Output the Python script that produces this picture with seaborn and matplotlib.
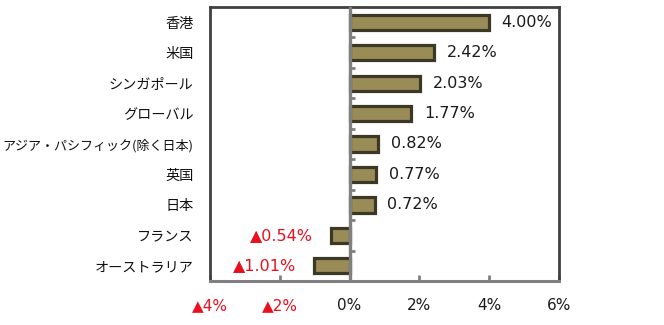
import matplotlib
matplotlib.use("Agg")
import matplotlib.pyplot as plt
import seaborn as sns
import pandas as pd

categories = ["香港", "米国", "シンガポール", "グローバル", "アジア・パシフィック(除く日本)",
              "英国", "日本", "フランス", "オーストラリア"]
values = [4.00, 2.42, 2.03, 1.77, 0.82, 0.77, 0.72, -0.54, -1.01]
xticks = [-4, -2, 0, 2, 4, 6]
xtick_labels = ["▲4%", "▲2%", "0%", "2%", "4%", "6%"]

sns.set_theme(style="white")
plt.rcParams["font.family"] = ["DejaVu Sans", "Noto Sans CJK JP"]

df = pd.DataFrame({"category": categories, "value": values})

fig = plt.figure(figsize=(6.64, 3.25), dpi=100)
ax = fig.add_axes([210 / 664, 1 - 281 / 325, (559 - 210) / 664, (281 - 7) / 325])

sns.barplot(data=df, x="value", y="category", orient="h", color="#9a8c56",
            saturation=1, edgecolor="#3b3826", linewidth=2.3, width=0.5, ax=ax)

RED = "#e8101e"
ax.set_xlim(-4, 6)
ax.set_ylim(8.5, -0.5)
ax.set_xlabel("")
ax.set_ylabel("")

# zero line
ax.axvline(0, color="#808080", linewidth=2.4, zorder=3)
# category boundary ticks on zero line
for i in range(len(categories) - 1):
    ax.hlines(i + 0.5, 0, 0.15, color="#808080", linewidth=2, zorder=3)

# spines
for s in ["left", "top", "right"]:
    ax.spines[s].set_color("#404040")
    ax.spines[s].set_linewidth(2)
ax.spines["bottom"].set_color("#808080")
ax.spines["bottom"].set_linewidth(2.2)

# x ticks
ax.set_xticks(xticks)
ax.set_xticklabels(xtick_labels, fontsize=11)
ax.tick_params(axis="x", direction="in", length=4, width=2, color="#808080", pad=12,
               bottom=True)
for lbl, v in zip(ax.get_xticklabels(), xticks):
    lbl.set_color(RED if v < 0 else "#1a1a1a")

# y tick labels
ax.tick_params(axis="y", length=0, pad=12)
ax.set_yticks(range(len(categories)))
ax.set_yticklabels(categories, family="Noto Sans CJK JP", color="#111111")
for lbl, c in zip(ax.get_yticklabels(), categories):
    lbl.set_fontsize(9.4 if len(c) > 10 else 10.2)

# value labels
for i, v in enumerate(values):
    if v >= 0:
        ax.annotate(f"{v:.2f}%", xy=(v, i), xytext=(9, 0), textcoords="offset points",
                    ha="left", va="center", fontsize=11.5, color="#1a1a1a")
    else:
        ax.annotate(f"▲{abs(v):.2f}%", xy=(v, i), xytext=(-13, 0), textcoords="offset points",
                    ha="right", va="center", fontsize=11.5, color=RED)

fig.savefig("out.png", dpi=100, facecolor="white")
